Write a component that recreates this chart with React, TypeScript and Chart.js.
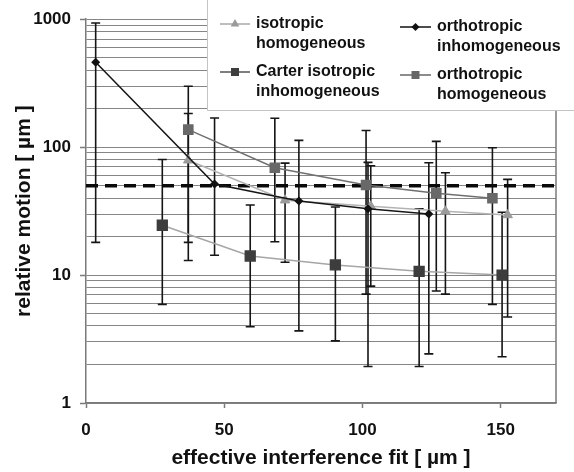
import { useEffect, useRef } from 'react';
import { Chart, registerables } from 'chart.js';

Chart.register(...registerables);

// ---- data ----
const X_ISO_HOM = [37, 72, 103, 130, 152.5];
const Y_ISO_HOM = [79, 38.5, 34.5, 31.5, 29.5];
const LOW_ISO_HOM = [13, 12.6, 8.2, 7.1, 4.7];
const HIGH_ISO_HOM = [183, 75, 71.5, 63, 56];

const X_ORTHO_INHOM = [3.5, 46.5, 77, 102, 124];
const Y_ORTHO_INHOM = [460, 51.5, 38, 33, 30];
const LOW_ORTHO_INHOM = [18, 14.3, 3.66, 1.93, 2.42];
const HIGH_ORTHO_INHOM = [933, 169, 113, 76, 75.5];

const X_CARTER = [27.6, 59.4, 90.2, 120.5, 150.5];
const Y_CARTER = [24.5, 14.1, 12, 10.7, 10];
const LOW_CARTER = [5.9, 3.95, 3.06, 1.93, 2.3];
const HIGH_CARTER = [80, 35.3, 34, 33, 31];

const X_ORTHO_HOM = [37, 68.3, 101.3, 126.7, 147];
const Y_ORTHO_HOM = [137, 69, 50.6, 43.6, 39.8];
const LOW_ORTHO_HOM = [18, 18.2, 7.1, 7.5, 5.9];
const HIGH_ORTHO_HOM = [299, 168, 135, 111, 99];

const LIMIT = 50;
const X_MIN = 0;
const X_MAX = 170;
const X_TICKS = [0, 50, 100, 150];
const Y_MIN = 1;
const Y_MAX = 1000;
const Y_MAJOR = [1, 10, 100, 1000];
const Y_MINOR_STEPS = [2, 3, 4, 5, 6, 7, 8, 9];

const LABEL_ISO_HOM = ['isotropic', 'homogeneous'];
const LABEL_CARTER = ['Carter isotropic', 'inhomogeneous'];
const LABEL_ORTHO_INHOM = ['orthotropic', 'inhomogeneous'];
const LABEL_ORTHO_HOM = ['orthotropic', 'homogeneous'];

const X_TITLE = 'effective interference fit [ µm ]';
const Y_TITLE = 'relative motion [ µm ]';

const FONT = '"Liberation Sans", Arial, Helvetica, sans-serif';

const pts = (xs: number[], ys: number[]) => xs.map((x, i) => ({ x, y: ys[i] }));

const yTickValues = (): number[] => {
  const out: number[] = [];
  Y_MAJOR.forEach((m, i) => {
    out.push(m);
    if (i < Y_MAJOR.length - 1) Y_MINOR_STEPS.forEach((s) => out.push(m * s));
  });
  return out.sort((a, b) => a - b);
};

function drawMarker(ctx: CanvasRenderingContext2D, style: string, x: number, y: number, r: number, color: string) {
  ctx.fillStyle = color;
  ctx.beginPath();
  if (style === 'triangle') {
    ctx.moveTo(x, y - r);
    ctx.lineTo(x + r * 0.866, y + r * 0.5);
    ctx.lineTo(x - r * 0.866, y + r * 0.5);
  } else if (style === 'rect') {
    ctx.rect(x - r, y - r, 2 * r, 2 * r);
  } else {
    ctx.moveTo(x - r, y);
    ctx.lineTo(x, y - r);
    ctx.lineTo(x + r, y);
    ctx.lineTo(x, y + r);
  }
  ctx.closePath();
  ctx.fill();
}

const errorBarsPlugin = {
  id: 'errorBars',
  beforeDatasetsDraw(chart: any) {
    const { ctx, scales } = chart;
    const xs = scales.x;
    const ys = scales.y;
    ctx.save();
    // plot frame right edge
    ctx.strokeStyle = '#7a7a7a';
    ctx.lineWidth = 1.5;
    ctx.beginPath();
    ctx.moveTo(chart.chartArea.right, chart.chartArea.top);
    ctx.lineTo(chart.chartArea.right, chart.chartArea.bottom);
    ctx.stroke();

    ctx.strokeStyle = '#151515';
    ctx.lineWidth = 1.6;
    chart.data.datasets.forEach((ds: any) => {
      if (!ds.errLow) return;
      ds.data.forEach((p: any, i: number) => {
        const px = xs.getPixelForValue(p.x);
        const top = ys.getPixelForValue(ds.errHigh[i]);
        const bot = ys.getPixelForValue(ds.errLow[i]);
        const c = 4.5;
        ctx.beginPath();
        ctx.moveTo(px, top);
        ctx.lineTo(px, bot);
        ctx.moveTo(px - c, top);
        ctx.lineTo(px + c, top);
        ctx.moveTo(px - c, bot);
        ctx.lineTo(px + c, bot);
        ctx.stroke();
      });
    });
    ctx.restore();
  },
};

const legendPlugin = {
  id: 'customLegend',
  afterDraw(chart: any) {
    const { ctx } = chart;
    ctx.save();
    ctx.fillStyle = '#ffffff';
    ctx.fillRect(207, 0, 574 - 207, 110);
    ctx.strokeStyle = '#c4c4c4';
    ctx.lineWidth = 1;
    ctx.beginPath();
    ctx.moveTo(207.5, 0);
    ctx.lineTo(207.5, 110.5);
    ctx.lineTo(574, 110.5);
    ctx.stroke();

    const entries = [
      { x0: 220, x1: 250, tx: 256, y: 24, lines: LABEL_ISO_HOM, line: '#a8a8a8', mk: 'triangle', mr: 5, mc: '#9a9a9a' },
      { x0: 220, x1: 250, tx: 256, y: 72, lines: LABEL_CARTER, line: '#555555', mk: 'rect', mr: 4, mc: '#3d3d3d' },
      { x0: 400, x1: 431, tx: 437, y: 27, lines: LABEL_ORTHO_INHOM, line: '#111111', mk: 'diamond', mr: 4, mc: '#111111' },
      { x0: 400, x1: 431, tx: 437, y: 75, lines: LABEL_ORTHO_HOM, line: '#666666', mk: 'rect', mr: 4, mc: '#666666' },
    ];
    entries.forEach((e) => {
      ctx.strokeStyle = e.line;
      ctx.lineWidth = 1.5;
      ctx.beginPath();
      ctx.moveTo(e.x0, e.y);
      ctx.lineTo(e.x1, e.y);
      ctx.stroke();
      drawMarker(ctx, e.mk, (e.x0 + e.x1) / 2, e.y, e.mr, e.mc);
      ctx.fillStyle = '#111111';
      ctx.font = `bold 16px ${FONT}`;
      ctx.textBaseline = 'middle';
      ctx.textAlign = 'left';
      e.lines.forEach((t: string, i: number) => ctx.fillText(t, e.tx, e.y + i * 19.5));
    });
    ctx.restore();
  },
};

export default function App() {
  const canvasRef = useRef<HTMLCanvasElement | null>(null);

  useEffect(() => {
    if (!canvasRef.current) return;
    const chart = new Chart(canvasRef.current, {
      type: 'line',
      data: {
        datasets: [
          {
            label: LABEL_ORTHO_INHOM.join(' '),
            data: pts(X_ORTHO_INHOM, Y_ORTHO_INHOM),
            borderColor: '#151515',
            borderWidth: 1.5,
            pointStyle: 'rectRot',
            pointRadius: 4.5,
            pointBackgroundColor: '#111111',
            pointBorderColor: '#111111',
            pointBorderWidth: 0,
            errLow: LOW_ORTHO_INHOM,
            errHigh: HIGH_ORTHO_INHOM,
          } as any,
          {
            label: LABEL_ISO_HOM.join(' '),
            data: pts(X_ISO_HOM, Y_ISO_HOM),
            borderColor: '#b3b3b3',
            borderWidth: 1.5,
            pointStyle: 'triangle',
            pointRadius: 5.5,
            pointBackgroundColor: '#9a9a9a',
            pointBorderColor: '#9a9a9a',
            pointBorderWidth: 1,
            errLow: LOW_ISO_HOM,
            errHigh: HIGH_ISO_HOM,
          } as any,
          {
            label: LABEL_ORTHO_HOM.join(' '),
            data: pts(X_ORTHO_HOM, Y_ORTHO_HOM),
            borderColor: '#707070',
            borderWidth: 1.5,
            pointStyle: 'rect',
            pointRadius: 7.5,
            pointBackgroundColor: '#686868',
            pointBorderColor: '#686868',
            pointBorderWidth: 0,
            errLow: LOW_ORTHO_HOM,
            errHigh: HIGH_ORTHO_HOM,
          } as any,
          {
            label: LABEL_CARTER.join(' '),
            data: pts(X_CARTER, Y_CARTER),
            borderColor: '#a6a6a6',
            borderWidth: 1.5,
            pointStyle: 'rect',
            pointRadius: 8,
            pointBackgroundColor: '#3d3d3d',
            pointBorderColor: '#3d3d3d',
            pointBorderWidth: 0,
            errLow: LOW_CARTER,
            errHigh: HIGH_CARTER,
          } as any,
          {
            label: 'limit',
            data: [
              { x: X_MIN, y: LIMIT },
              { x: X_MAX, y: LIMIT },
            ],
            borderColor: '#0a0a0a',
            borderWidth: 3.5,
            borderDash: [12, 7],
            pointRadius: 0,
          },
        ],
      },
      options: {
        responsive: false,
        animation: false,
        devicePixelRatio: 1,
        events: [],
        layout: { padding: { left: 0, right: 18, top: 18, bottom: 0 } },
        plugins: {
          legend: { display: false },
          tooltip: { enabled: false },
        },
        scales: {
          x: {
            type: 'linear',
            min: X_MIN,
            max: X_MAX,
            afterBuildTicks: (scale: any) => {
              scale.ticks = X_TICKS.map((v) => ({ value: v }));
            },
            afterFit: (scale: any) => {
              scale.height = 69;
            },
            grid: {
              drawOnChartArea: false,
              drawTicks: true,
              tickLength: 5,
              tickColor: '#7a7a7a',
              tickWidth: 1.5,
            },
            border: { display: true, color: '#7a7a7a', width: 1.5 },
            ticks: {
              autoSkip: false,
              maxRotation: 0,
              padding: 12,
              color: '#111111',
              font: { family: FONT, size: 17, weight: 'bold' },
            },
            title: {
              display: true,
              text: X_TITLE,
              color: '#111111',
              padding: { top: 0, bottom: 1.5 },
              font: { family: FONT, size: 21, weight: 'bold' },
            },
          },
          y: {
            type: 'logarithmic',
            min: Y_MIN,
            max: Y_MAX,
            afterBuildTicks: (scale: any) => {
              scale.ticks = yTickValues().map((v) => ({ value: v, major: Y_MAJOR.includes(v) }));
            },
            afterFit: (scale: any) => {
              scale.width = 86;
            },
            grid: {
              color: '#868686',
              lineWidth: 1,
              drawTicks: true,
              tickLength: 6,
              tickColor: (ctx: any) => (ctx.tick && Y_MAJOR.includes(ctx.tick.value) ? '#7a7a7a' : 'rgba(0,0,0,0)'),
              tickWidth: 1.5,
            },
            border: { display: true, color: '#7a7a7a', width: 1.5 },
            ticks: {
              autoSkip: false,
              padding: 9,
              color: '#111111',
              font: { family: FONT, size: 17, weight: 'bold' },
              callback: (value: any) => (Y_MAJOR.includes(Number(value)) ? String(value) : ''),
            },
            title: {
              display: true,
              text: Y_TITLE,
              color: '#111111',
              padding: { top: 12, bottom: 0 },
              font: { family: FONT, size: 21, weight: 'bold' },
            },
          },
        },
      } as any,
      plugins: [errorBarsPlugin, legendPlugin],
    });
    return () => chart.destroy();
  }, []);

  return (
    <div style={{ position: 'absolute', left: 0, top: 0, width: 574, height: 472, background: '#fff' }}>
      <canvas ref={canvasRef} width={574} height={472} />
    </div>
  );
}
